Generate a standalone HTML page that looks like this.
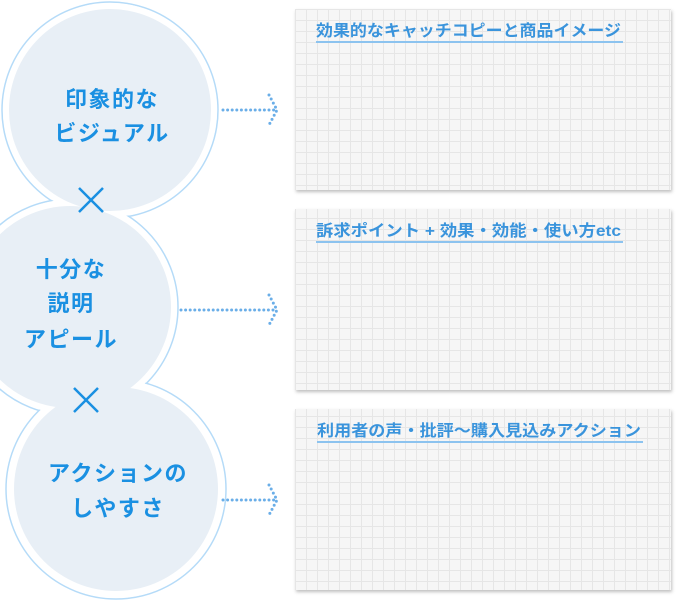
<!DOCTYPE html>
<html><head><meta charset="utf-8"><style>
html,body{margin:0;padding:0;background:#fff;width:680px;height:600px;overflow:hidden}
svg{display:block}
text{font-family:"Liberation Sans","Noto Sans CJK JP",sans-serif;font-weight:bold;fill:#1a90e2}
.t{font-size:16px;fill:#3a94dc}
</style></head><body>
<svg width="680" height="600" viewBox="0 0 680 600" xmlns="http://www.w3.org/2000/svg">
<defs>
<pattern id="g" width="11" height="11" patternUnits="userSpaceOnUse" x="295" y="9">
<rect width="11" height="11" fill="#f6f6f6"/>
<path d="M0 0.5H11M0.5 0V11" stroke="#e6e6e6" stroke-width="1"/>
</pattern>
<filter id="sh" x="-5%" y="-5%" width="110%" height="115%"><feDropShadow dx="1" dy="2" stdDeviation="1.5" flood-color="#000" flood-opacity="0.25"/></filter>
</defs>
<g fill="#fff" stroke="#b5dbf8" stroke-width="1.5">
<circle cx="110" cy="110" r="108"/>
<circle cx="70" cy="307" r="108"/>
<circle cx="116" cy="489" r="110"/>
</g>
<g fill="#fff">
<circle cx="110" cy="110" r="107"/>
<circle cx="70" cy="307" r="107"/>
<circle cx="116" cy="489" r="109"/>
</g>
<g fill="#e8eff6">
<circle cx="110" cy="110" r="101"/>
<circle cx="70" cy="307" r="101"/>
<circle cx="116" cy="489" r="102"/>
</g>
<g font-size="22" text-anchor="middle" letter-spacing="1.5">
<text x="112" y="107">印象的な</text>
<text x="112" y="141">ビジュアル</text>
<text x="71" y="277">十分な</text>
<text x="71" y="311">説明</text>
<text x="71" y="347">アピール</text>
<text x="118" y="481">アクションの</text>
<text x="118" y="516">しやすさ</text>
</g>
<g stroke="#1a90e2" stroke-width="2.5">
<path d="M79 188L103 212M103 188L79 212"/>
<path d="M74 388L98 412M98 388L74 412"/>
</g>
<g fill="none" stroke="#6aaee8" stroke-width="3" stroke-linecap="round" stroke-dasharray="0 4.6">
<path d="M223 110H277"/>
<path d="M269 95L277 110L269 125"/>
<path d="M181 310H277"/>
<path d="M269 295L277 310L269 325"/>
<path d="M223 500H277"/>
<path d="M269 485L277 500L269 515"/>
</g>
<g filter="url(#sh)" fill="url(#g)">
<rect x="295" y="9" width="376" height="181"/>
<rect x="295" y="209" width="376" height="181"/>
<rect x="295" y="409" width="376" height="181"/>
</g>
<text class="t" x="316" y="36" textLength="305" lengthAdjust="spacingAndGlyphs">効果的なキャッチコピーと商品イメージ</text>
<rect x="316" y="41" width="307" height="2" fill="#8cc3ef"/>
<text class="t" x="316" y="236" textLength="305" lengthAdjust="spacingAndGlyphs">訴求ポイント + 効果・効能・使い方etc</text>
<rect x="316" y="241" width="307" height="2" fill="#8cc3ef"/>
<text class="t" x="317" y="436" textLength="324" lengthAdjust="spacingAndGlyphs">利用者の声・批評〜購入見込みアクション</text>
<rect x="317" y="441" width="326" height="2" fill="#8cc3ef"/>
</svg>
</body></html>
